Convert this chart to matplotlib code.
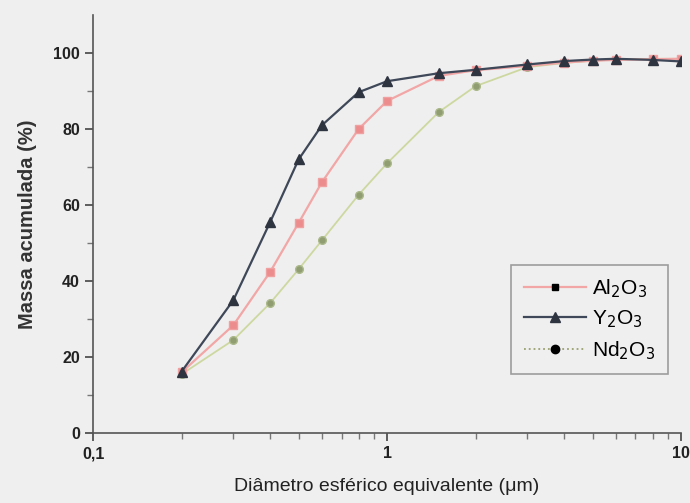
import matplotlib.pyplot as plt
from matplotlib.lines import Line2D
from matplotlib.ticker import FixedLocator, NullFormatter
import numpy as np

plt.rcParams['font.family'] = ['Liberation Sans', 'DejaVu Sans']

# diametro (um)
diam = [0.2, 0.3, 0.4, 0.5, 0.6, 0.8, 1, 1.5, 2, 3, 4, 5, 6, 8, 10]
al2o3 = [16, 28.4, 42.4, 55.3, 66, 80, 87.4, 94, 95.5, 96.6, 97.5, 98, 98.2, 98.4, 98.5]
y2o3 = [16.2, 35, 55.5, 72, 81, 89.7, 92.6, 94.7, 95.6, 97, 97.9, 98.3, 98.5, 98.2, 97.8]
nd2o3 = [15.5, 24.5, 34.2, 43.1, 50.7, 62.7, 71, 84.5, 91.3, 96.3, 97.4, 98, 98.3, 98.5, 98.5]

yticks = [0, 20, 40, 60, 80, 100]
ytick_labels = ['0', '20', '40', '60', '80', '100']
xticks = [0.1, 1, 10]
xtick_labels = ['0,1', '1', '10']

bg = '#efefef'
fig = plt.figure(figsize=(6.9, 5.03), dpi=100, facecolor=bg)
ax = fig.add_axes([0.135, 0.139, 0.852, 0.831], facecolor=bg)

ax.plot(diam, nd2o3, color='#cdd8a0', lw=1.3, marker='o', ms=5.5,
        mfc='#8f9d70', mec='#aab88a', zorder=3)
ax.plot(diam, al2o3, color='#f2a6a6', lw=1.6, marker='s', ms=5.5,
        mfc='#ec8c8c', mec='#f0a0a0', zorder=4)
ax.plot(diam, y2o3, color='#3e4858', lw=1.6, marker='^', ms=7,
        mfc='#2e3440', mec='#2e3440', zorder=5)

ax.set_xscale('log')
ax.set_xlim(0.1, 10)
ax.set_ylim(0, 110)

ax.xaxis.set_major_locator(FixedLocator(xticks))
ax.set_xticklabels(xtick_labels)
ax.xaxis.set_minor_locator(FixedLocator([0.2, 0.3, 0.4, 0.5, 0.6, 0.7, 0.8, 0.9,
                                         2, 3, 4, 5, 6, 7, 8, 9]))
ax.xaxis.set_minor_formatter(NullFormatter())
ax.set_yticks(yticks)
ax.set_yticklabels(ytick_labels)
ax.yaxis.set_minor_locator(FixedLocator([10, 30, 50, 70, 90]))

for s in ['top', 'right']:
    ax.spines[s].set_visible(False)
for s in ['left', 'bottom']:
    ax.spines[s].set_color('#555555')
    ax.spines[s].set_linewidth(1.2)

ax.tick_params(axis='both', which='major', length=6, width=1.2, color='#444444',
               labelsize=11.5, direction='out')
ax.tick_params(axis='both', which='minor', length=4, width=1, color='#777777',
               direction='out')
for lab in ax.get_xticklabels() + ax.get_yticklabels():
    lab.set_fontweight('bold')
    lab.set_color('#222222')

ax.set_ylabel('Massa acumulada (%)', fontsize=14.5, fontweight='bold', color='#333333', labelpad=12)
ax.set_xlabel('Diâmetro esférico equivalente (μm)', fontsize=14, color='#222222', labelpad=12)

handles = [
    Line2D([], [], color='#f2a6a6', lw=1.6, marker='s', ms=5, mfc='black', mec='black'),
    Line2D([], [], color='#3e4858', lw=1.6, marker='^', ms=7, mfc='#2e3440', mec='#2e3440'),
    Line2D([], [], color='#9aa070', lw=1.3, ls=':', marker='o', ms=6, mfc='black', mec='black'),
]
leg = ax.legend(handles, ['Al$_2$O$_3$', 'Y$_2$O$_3$', 'Nd$_2$O$_3$'],
                loc='lower right', bbox_to_anchor=(0.978, 0.141), borderaxespad=0,
                fontsize=15, frameon=True, fancybox=False, edgecolor='#888888',
                facecolor=bg, handlelength=3.0, handletextpad=0.3,
                labelspacing=0.42, borderpad=0.6)
leg.get_frame().set_linewidth(1.2)

fig.savefig('out.png', dpi=100, facecolor=bg)
